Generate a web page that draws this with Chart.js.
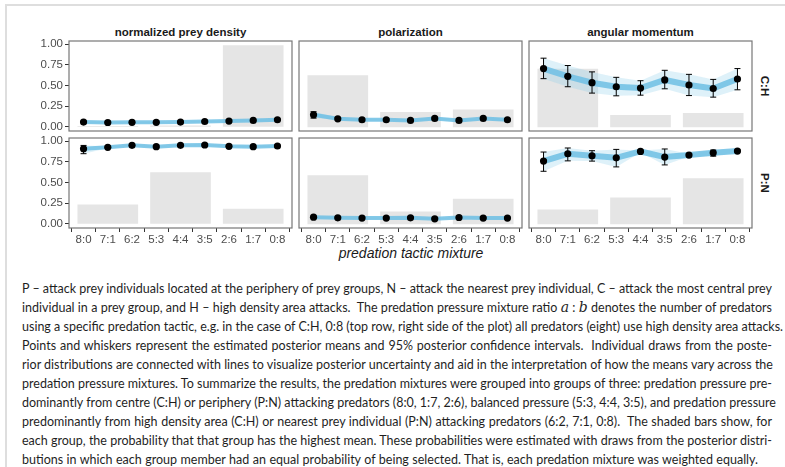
<!DOCTYPE html>
<html>
<head>
<meta charset="utf-8">
<script src="https://cdn.jsdelivr.net/npm/chart.js@4.4.0/dist/chart.umd.min.js"></script>
<style>
  html, body { margin: 0; padding: 0; background: #fff; }
  body { width: 785px; height: 467px; position: relative; overflow: hidden; font-family: 'Liberation Sans', Arial, sans-serif; }
  #frame { position: absolute; left: 5px; top: 4px; right: 0; bottom: 0; border-top: 2px solid #dedede; border-left: 2px solid #dedede; }
  canvas.panel { position: absolute; }
  .facet { position: absolute; font-weight: bold; font-size: 11.5px; color: #1a1a1a; transform: translate(-50%, -50%); white-space: nowrap; }
  .strip { position: absolute; font-weight: bold; font-size: 11.5px; color: #1a1a1a; transform: translate(-50%, -50%) rotate(90deg); white-space: nowrap; }
  #xtitle { position: absolute; left: 411px; top: 253px; transform: translate(-50%, -50%); font-style: italic; font-size: 14px; color: #1a1a1a; white-space: nowrap; }
  #caption { position: absolute; left: 22px; top: 279px; width: 750px; font-family: Lato, sans-serif; font-size: 12.5px; line-height: 19px; color: #1f1f1f; }
  #caption div { white-space: nowrap; text-align: justify; text-align-last: justify; }
  #caption div.last { width: 736px; }
  #caption i { font-family: 'DejaVu Serif', serif; font-size: 14px; }
</style>
</head>
<body>
<div id="frame"></div>

<div class="facet" style="left:180.5px; top:31.5px">normalized prey density</div>
<div class="facet" style="left:410.5px; top:31.5px">polarization</div>
<div class="facet" style="left:640.5px; top:31.5px">angular momentum</div>
<div class="strip" style="left:765px; top:86px">C:H</div>
<div class="strip" style="left:765px; top:183px">P:N</div>
<div id="xtitle">predation tactic mixture</div>

<div id="caption">
  <div>P – attack prey individuals located at the periphery of prey groups, N – attack the nearest prey individual, C – attack the most central prey</div>
  <div>individual in a prey group, and H – high density area attacks.&nbsp; The predation pressure mixture ratio <i>a</i> : <i>b</i> denotes the number of predators</div>
  <div>using a specific predation tactic, e.g. in the case of C:H, 0:8 (top row, right side of the plot) all predators (eight) use high density area attacks.</div>
  <div>Points and whiskers represent the estimated posterior means and 95% posterior confidence intervals.&nbsp; Individual draws from the poste-</div>
  <div>rior distributions are connected with lines to visualize posterior uncertainty and aid in the interpretation of how the means vary across the</div>
  <div>predation pressure mixtures. To summarize the results, the predation mixtures were grouped into groups of three: predation pressure pre-</div>
  <div>dominantly from centre (C:H) or periphery (P:N) attacking predators (8:0, 1:7, 2:6), balanced pressure (5:3, 4:4, 3:5), and predation pressure</div>
  <div>predominantly from high density area (C:H) or nearest prey individual (P:N) attacking predators (6:2, 7:1, 0:8).&nbsp; The shaded bars show, for</div>
  <div>each group, the probability that that group has the highest mean. These probabilities were estimated with draws from the posterior distri-</div>
  <div class="last">butions in which each group member had an equal probability of being selected. That is, each predation mixture was weighted equally.</div>
</div>

<script>
// x categories and y ticks
const mixtures = ['8:0', '7:1', '6:2', '5:3', '4:4', '3:5', '2:6', '1:7', '0:8'];
const yTicks = [0, 0.25, 0.5, 0.75, 1];
// shaded group bars sit on the middle mixture of each group of three
const groupCentres = ['7:1', '4:4', '1:7'];

// C:H row
const densityCHMean = [0.058, 0.053, 0.055, 0.055, 0.058, 0.065, 0.070, 0.078, 0.086];
const densityCHLow  = [0.050, 0.045, 0.047, 0.047, 0.050, 0.057, 0.062, 0.070, 0.077];
const densityCHHigh = [0.066, 0.061, 0.063, 0.063, 0.066, 0.073, 0.078, 0.086, 0.095];
const densityCHProb = [0.006, 0.012, 0.985];

const polarCHMean = [0.147, 0.098, 0.086, 0.086, 0.078, 0.102, 0.078, 0.102, 0.086];
const polarCHLow  = [0.106, 0.085, 0.074, 0.075, 0.067, 0.088, 0.066, 0.089, 0.073];
const polarCHHigh = [0.184, 0.112, 0.098, 0.097, 0.089, 0.116, 0.090, 0.115, 0.099];
const polarCHProb = [0.62, 0.175, 0.205];

const angularCHMean = [0.706, 0.612, 0.535, 0.486, 0.470, 0.568, 0.507, 0.465, 0.580];
const angularCHLow  = [0.584, 0.486, 0.409, 0.376, 0.384, 0.461, 0.379, 0.360, 0.449];
const angularCHHigh = [0.832, 0.743, 0.666, 0.600, 0.559, 0.685, 0.636, 0.575, 0.706];
const angularCHProb = [0.70, 0.14, 0.165];

// P:N row
const densityPNMean = [0.910, 0.927, 0.951, 0.935, 0.951, 0.955, 0.939, 0.935, 0.943];
const densityPNLow  = [0.850, 0.915, 0.942, 0.925, 0.942, 0.946, 0.930, 0.925, 0.934];
const densityPNHigh = [0.950, 0.940, 0.960, 0.945, 0.960, 0.964, 0.948, 0.945, 0.952];
const densityPNProb = [0.23, 0.62, 0.18];

const polarPNMean = [0.081, 0.073, 0.070, 0.070, 0.073, 0.061, 0.077, 0.070, 0.070];
const polarPNLow  = [0.073, 0.065, 0.062, 0.062, 0.065, 0.053, 0.069, 0.062, 0.062];
const polarPNHigh = [0.089, 0.081, 0.078, 0.078, 0.081, 0.069, 0.085, 0.078, 0.078];
const polarPNProb = [0.585, 0.145, 0.30];

const angularPNMean = [0.760, 0.849, 0.825, 0.800, 0.877, 0.809, 0.833, 0.861, 0.882];
const angularPNLow  = [0.637, 0.763, 0.760, 0.690, 0.865, 0.714, 0.815, 0.820, 0.870];
const angularPNHigh = [0.870, 0.919, 0.886, 0.902, 0.890, 0.907, 0.850, 0.894, 0.895];
const angularPNProb = [0.17, 0.315, 0.55];

const panels = [
  { row: 0, col: 0, mean: densityCHMean, low: densityCHLow, high: densityCHHigh, prob: densityCHProb },
  { row: 0, col: 1, mean: polarCHMean, low: polarCHLow, high: polarCHHigh, prob: polarCHProb },
  { row: 0, col: 2, mean: angularCHMean, low: angularCHLow, high: angularCHHigh, prob: angularCHProb },
  { row: 1, col: 0, mean: densityPNMean, low: densityPNLow, high: densityPNHigh, prob: densityPNProb },
  { row: 1, col: 1, mean: polarPNMean, low: polarPNLow, high: polarPNHigh, prob: polarPNProb },
  { row: 1, col: 2, mean: angularPNMean, low: angularPNLow, high: angularPNHigh, prob: angularPNProb }
];

// panel geometry (plot areas)
const panelLeft = [69, 299, 529];
const panelTop = [41, 138];
const panelW = 223, panelH = 90;
const padL = 50, padT = 12, padR = 8, padB = 30;
const yAxisW = 40, xAxisH = 22;
const meanLineWidth = [4, 4, 6];
const tickFont = { family: "'Liberation Sans', Arial, sans-serif", size: 11.5 };

const xy = arr => arr.map((v, i) => ({ x: i, y: v }));

// whiskers plus the grey panel border
function panelExtras(low, high) {
  return {
    id: 'panelExtras',
    afterDatasetsDraw(chart) {
      const { ctx, chartArea: a, scales: { x, y } } = chart;
      ctx.save();
      ctx.strokeStyle = '#000';
      ctx.lineWidth = 1;
      low.forEach((l, i) => {
        const px = x.getPixelForValue(i);
        const y0 = y.getPixelForValue(l);
        const y1 = y.getPixelForValue(high[i]);
        ctx.beginPath();
        ctx.moveTo(px, y0); ctx.lineTo(px, y1);
        ctx.moveTo(px - 3, y0); ctx.lineTo(px + 3, y0);
        ctx.moveTo(px - 3, y1); ctx.lineTo(px + 3, y1);
        ctx.stroke();
      });
      ctx.strokeStyle = '#777';
      ctx.lineWidth = 1.2;
      ctx.strokeRect(a.left, a.top, a.width, a.height);
      ctx.restore();
    }
  };
}

function drawPanel(p) {
  const firstCol = p.col === 0;
  const lastRow = p.row === 1;
  const canvas = document.createElement('canvas');
  canvas.className = 'panel';
  canvas.width = padL + panelW + padR;
  canvas.height = padT + panelH + padB;
  canvas.style.left = (panelLeft[p.col] - padL) + 'px';
  canvas.style.top = (panelTop[p.row] - padT) + 'px';
  document.body.appendChild(canvas);

  new Chart(canvas, {
    type: 'scatter',
    data: {
      datasets: [
        {
          type: 'bar',
          data: groupCentres.map((m, i) => ({ x: mixtures.indexOf(m), y: p.prob[i] })),
          backgroundColor: '#e5e5e5',
          barThickness: 60,
          order: 4
        },
        {
          type: 'line',
          data: xy(p.low),
          borderWidth: 0,
          pointRadius: 0,
          fill: false,
          order: 3
        },
        {
          type: 'line',
          data: xy(p.high),
          borderWidth: 0,
          pointRadius: 0,
          fill: '-1',
          backgroundColor: 'rgba(135,206,235,0.28)',
          order: 3
        },
        {
          type: 'line',
          data: xy(p.mean),
          borderColor: 'rgba(110,192,228,0.85)',
          borderWidth: meanLineWidth[p.col],
          pointRadius: 0,
          tension: 0,
          order: 2
        },
        {
          type: 'scatter',
          data: xy(p.mean),
          backgroundColor: '#000',
          borderWidth: 0,
          pointRadius: 3.6,
          order: 1
        }
      ]
    },
    options: {
      responsive: false,
      animation: false,
      layout: {
        padding: {
          left: firstCol ? padL - yAxisW : padL,
          top: padT,
          right: padR,
          bottom: lastRow ? padB - xAxisH : padB
        }
      },
      plugins: { legend: { display: false }, tooltip: { enabled: false } },
      scales: {
        x: {
          type: 'linear',
          min: -0.6,
          max: 8.6,
          offset: false,
          display: lastRow,
          afterBuildTicks: s => { s.ticks = mixtures.map((_, i) => ({ value: i })); },
          afterFit: s => { s.height = lastRow ? xAxisH : 0; },
          grid: { drawOnChartArea: false, tickLength: 4, tickColor: '#333', tickWidth: 1 },
          border: { display: false },
          ticks: {
            padding: 1,
            color: '#4d4d4d',
            font: tickFont,
            autoSkip: false,
            maxRotation: 0,
            callback: v => mixtures[v]
          }
        },
        y: {
          type: 'linear',
          min: -0.05,
          max: 1.04,
          display: firstCol,
          afterBuildTicks: s => { s.ticks = yTicks.map(v => ({ value: v })); },
          afterFit: s => { s.width = firstCol ? yAxisW : 0; },
          grid: { drawOnChartArea: false, tickLength: 4, tickColor: '#333', tickWidth: 1 },
          border: { display: false },
          ticks: {
            padding: 2,
            color: '#4d4d4d',
            font: tickFont,
            callback: v => v.toFixed(2)
          }
        }
      }
    },
    plugins: [panelExtras(p.low, p.high)]
  });
}

panels.forEach(drawPanel);
</script>
</body>
</html>
